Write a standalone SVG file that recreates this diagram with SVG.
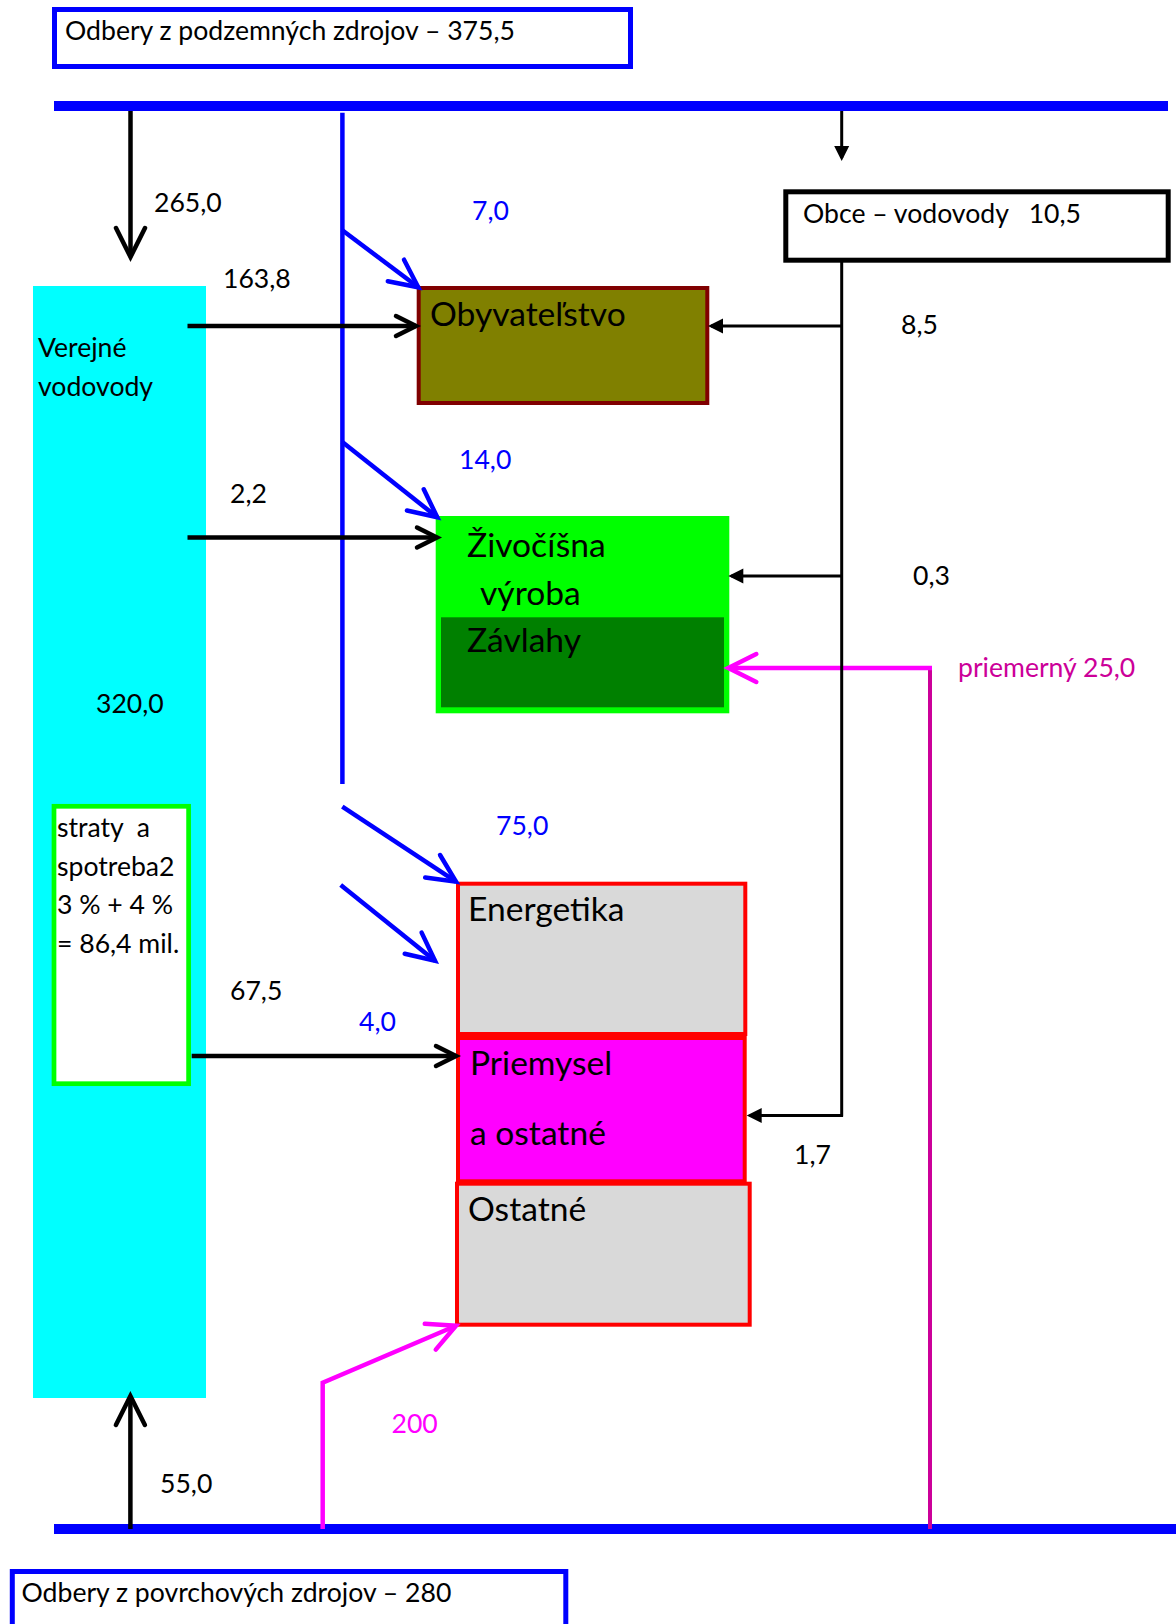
<svg xmlns="http://www.w3.org/2000/svg" width="1176" height="1624" viewBox="0 0 1176 1624">
<style>
text{font-family:Lato,"Liberation Sans",sans-serif;fill:#000;white-space:pre}
.s{font-size:26.6px}
.b{font-size:33.6px}
.blue{fill:#0000FF}
.pink{fill:#CC0099}
.mag{fill:#FF00FF}
.bk{stroke:#000;stroke-width:4.5;fill:none}
.bk3{stroke:#000;stroke-width:3;fill:none}
.bl{stroke:#0000FF;stroke-width:4.5;fill:none}
.mg{stroke:#FF00FF;stroke-width:4.5;fill:none}
.frame{fill:#fff;stroke:#0000FF;stroke-width:5}
</style>
<defs>
<marker id="openBlue" markerUnits="userSpaceOnUse" orient="auto" refX="0" refY="0" markerWidth="10" markerHeight="10" overflow="visible"><path d="M-28,-13.5 L0,0 L-28,13.5" fill="none" stroke="#0000FF" stroke-width="4.5" stroke-linecap="round"/></marker>
<marker id="openBlackL" markerUnits="userSpaceOnUse" orient="auto" refX="0" refY="0" markerWidth="10" markerHeight="10" overflow="visible"><path d="M-29,-14.5 L0,0 L-29,14.5" fill="none" stroke="#000" stroke-width="4.5" stroke-linecap="round"/></marker>
<marker id="openBlackS" markerUnits="userSpaceOnUse" orient="auto" refX="0" refY="0" markerWidth="10" markerHeight="10" overflow="visible"><path d="M-20,-10 L0,0 L-20,10" fill="none" stroke="#000" stroke-width="4.5" stroke-linecap="round"/></marker>
<marker id="openMag" markerUnits="userSpaceOnUse" orient="auto" refX="0" refY="0" markerWidth="10" markerHeight="10" overflow="visible"><path d="M-28,-14 L0,0 L-28,14" fill="none" stroke="#FF00FF" stroke-width="4.5" stroke-linecap="round"/></marker>
<marker id="filled" markerUnits="userSpaceOnUse" orient="auto" refX="0" refY="0" markerWidth="10" markerHeight="10" overflow="visible"><path d="M3,0 L-12,-7.5 L-12,7.5 Z" fill="#000"/></marker>
</defs>
<rect width="1176" height="1624" fill="#fff"/>

<g id="source-top">
<rect class="frame" x="54.5" y="9.5" width="576" height="57"/>
<text class="s" x="65" y="40">Odbery z podzemných zdrojov – 375,5</text>
</g>
<g id="bar-top"><rect x="54" y="101" width="1114" height="10" fill="#0000FF"/></g>
<g id="bar-bottom"><rect x="54" y="1524" width="1122" height="10" fill="#0000FF"/></g>
<g id="source-bottom">
<rect class="frame" x="12.3" y="1571.5" width="553.5" height="70"/>
<text class="s" x="21.5" y="1602">Odbery z povrchových zdrojov – 280</text>
</g>

<g id="verejne-vodovody">
<rect x="33" y="286" width="173" height="1112" fill="#00FFFF"/>
<text class="s" x="38" y="357">Verejné</text>
<text class="s" x="38" y="396">vodovody</text>
<text class="s" x="96" y="713">320,0</text>
</g>
<g id="straty">
<rect x="54" y="806.3" width="134.6" height="277.4" fill="#fff" stroke="#00FF00" stroke-width="4.7"/>
<text class="s" x="57" y="837">straty  a</text>
<text class="s" x="57" y="876">spotreba2</text>
<text class="s" x="57" y="914">3 % + 4 %</text>
<text class="s" x="57" y="953">= 86,4 mil.</text>
</g>
<g id="obce">
<rect x="785.8" y="191.8" width="382.4" height="68.4" fill="#fff" stroke="#000" stroke-width="5"/>
<text class="s" x="803" y="223">Obce – vodovody   10,5</text>
</g>
<g id="obyvatelstvo">
<rect x="418.7" y="288" width="288.6" height="115" fill="#808000" stroke="#800000" stroke-width="4"/>
<text class="b" x="430" y="326">Obyvateľstvo</text>
</g>
<g id="zivocisna">
<rect x="435.7" y="516" width="293.6" height="197.3" fill="#00FF00"/>
<text class="b" x="467" y="557">Živočíšna</text>
<text class="b" x="480" y="605">výroba</text>
</g>
<g id="zavlahy">
<rect x="441" y="617.3" width="283" height="90" fill="#008000"/>
<text class="b" x="467" y="652">Závlahy</text>
</g>
<g id="energetika">
<rect x="458" y="883.7" width="287.3" height="150.3" fill="#D9D9D9" stroke="#FF0000" stroke-width="4"/>
<text class="b" x="468" y="921">Energetika</text>
</g>
<g id="priemysel">
<rect x="458" y="1038" width="286.7" height="143.3" fill="#FF00FF" stroke="#FF0000" stroke-width="4"/>
<text class="b" x="470" y="1075">Priemysel</text>
<text class="b" x="470" y="1145">a ostatné</text>
</g>
<g id="ostatne">
<rect x="457" y="1183.7" width="292.7" height="141" fill="#D9D9D9" stroke="#FF0000" stroke-width="4"/>
<text class="b" x="468" y="1221">Ostatné</text>
</g>

<g id="connectors">
<line class="bl" x1="342.4" y1="112.7" x2="342.4" y2="784"/>
<line class="bl" x1="342" y1="230" x2="418.3" y2="287.3" marker-end="url(#openBlue)"/>
<line class="bl" x1="342" y1="441.7" x2="437.3" y2="517.3" marker-end="url(#openBlue)"/>
<line class="bl" x1="342.3" y1="806.7" x2="456" y2="881.7" marker-end="url(#openBlue)"/>
<line class="bl" x1="340.7" y1="885" x2="435" y2="960.7" marker-end="url(#openBlue)"/>
<line class="bk" x1="130.5" y1="111" x2="130.5" y2="257" marker-end="url(#openBlackL)"/>
<line class="bk" x1="130.4" y1="1529" x2="130.4" y2="1396" marker-end="url(#openBlackL)"/>
<line class="bk" x1="187.5" y1="326" x2="416" y2="326" marker-end="url(#openBlackS)"/>
<line class="bk" x1="187.5" y1="537.5" x2="437" y2="537.5" marker-end="url(#openBlackS)"/>
<line class="bk" x1="191.7" y1="1056" x2="456" y2="1056" marker-end="url(#openBlackS)"/>
<line x1="930" y1="1529" x2="930" y2="668" stroke="#CC0099" stroke-width="4"/>
<line class="mg" x1="932" y1="668" x2="728.3" y2="668" marker-end="url(#openMag)"/>
<polyline class="mg" stroke-width="5" points="322.7,1529 322.7,1382.7 456,1325.7" marker-end="url(#openMag)"/>
<line class="bk3" x1="841.7" y1="111" x2="841.7" y2="158" marker-end="url(#filled)"/>
<line class="bk3" x1="841.7" y1="262" x2="841.7" y2="1116.5"/>
<line class="bk3" x1="843" y1="326" x2="711" y2="326" marker-end="url(#filled)"/>
<line class="bk3" x1="843" y1="576" x2="731.3" y2="576" marker-end="url(#filled)"/>
<line class="bk3" x1="843" y1="1115.5" x2="749.7" y2="1115.5" marker-end="url(#filled)"/>
</g>

<g id="labels">
<text class="s" x="154" y="212">265,0</text>
<text class="s blue" x="472" y="220">7,0</text>
<text class="s" x="223" y="288">163,8</text>
<text class="s" x="901" y="334">8,5</text>
<text class="s blue" x="459" y="469">14,0</text>
<text class="s" x="230" y="503">2,2</text>
<text class="s" x="913" y="585">0,3</text>
<text class="s pink" x="958" y="677">priemerný 25,0</text>
<text class="s blue" x="496" y="835">75,0</text>
<text class="s" x="230" y="1000">67,5</text>
<text class="s blue" x="359" y="1031">4,0</text>
<text class="s" x="794" y="1164">1,7</text>
<text class="s mag" x="391.5" y="1433">200</text>
<text class="s" x="160" y="1493">55,0</text>
</g>
</svg>
